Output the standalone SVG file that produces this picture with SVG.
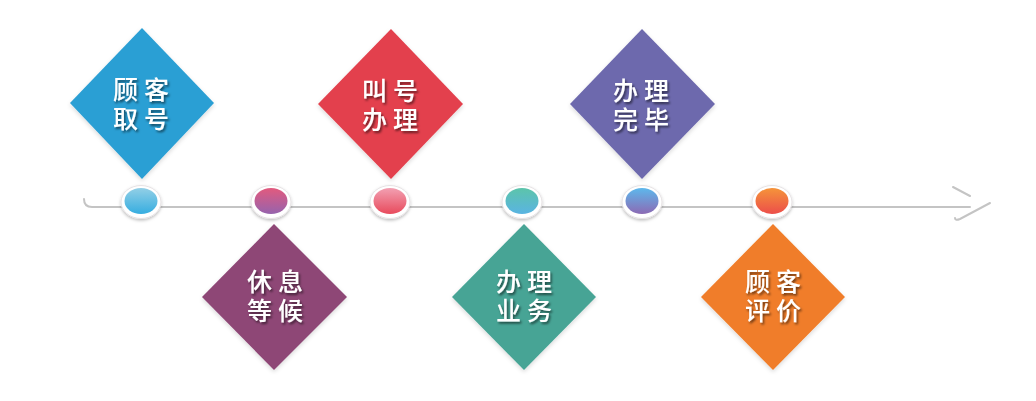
<svg xmlns="http://www.w3.org/2000/svg" width="1036" height="401" viewBox="0 0 1036 401">
<defs>
<style>
.lbl{font-family:"Liberation Sans","Noto Sans CJK SC",sans-serif;font-size:25px;font-weight:500;fill:#ffffff;text-anchor:middle;letter-spacing:6px;filter:url(#ts);}
.ring{fill:#ffffff;stroke:#e6e2e4;stroke-width:1;filter:url(#cs);}
.axis{fill:none;stroke:#c4c4c4;stroke-width:2;stroke-linecap:round;}
</style>
<filter id="ts" x="-20%" y="-30%" width="140%" height="160%">
<feDropShadow dx="1.5" dy="2" stdDeviation="1" flood-color="#000000" flood-opacity="0.55"/>
</filter>
<filter id="ds" x="-10%" y="-10%" width="120%" height="125%">
<feDropShadow dx="0" dy="2" stdDeviation="2" flood-color="#000000" flood-opacity="0.15"/>
</filter>
<filter id="cs" x="-30%" y="-30%" width="160%" height="170%">
<feDropShadow dx="0" dy="1.5" stdDeviation="1.5" flood-color="#000000" flood-opacity="0.25"/>
</filter>
<linearGradient id="g1" x1="0" y1="0" x2="0" y2="1"><stop offset="0" stop-color="#92cfe6"/><stop offset="1" stop-color="#36ade0"/></linearGradient>
<linearGradient id="g2" x1="0" y1="0" x2="0" y2="1"><stop offset="0" stop-color="#e25a7e"/><stop offset="1" stop-color="#9663ad"/></linearGradient>
<linearGradient id="g3" x1="0" y1="0" x2="0" y2="1"><stop offset="0" stop-color="#f2a0b2"/><stop offset="1" stop-color="#e84a5c"/></linearGradient>
<linearGradient id="g4" x1="0" y1="0" x2="0" y2="1"><stop offset="0" stop-color="#5cc4aa"/><stop offset="1" stop-color="#5ab4e2"/></linearGradient>
<linearGradient id="g5" x1="0" y1="0" x2="0" y2="1"><stop offset="0" stop-color="#5db8ec"/><stop offset="1" stop-color="#8c6ab4"/></linearGradient>
<linearGradient id="g6" x1="0" y1="0" x2="0" y2="1"><stop offset="0" stop-color="#f5943a"/><stop offset="1" stop-color="#ec4e4a"/></linearGradient>
</defs>
<rect width="1036" height="401" fill="#ffffff"/>

<g id="connectors">
<path class="axis" d="M84,199 Q84,207 92,207 L970,207"/>
<path class="axis" d="M953,187 L970,196"/>
<path class="axis" d="M990,203 L960,219 Q955,221 955,218"/>
</g>

<g id="dot1"><ellipse class="ring" cx="141" cy="202" rx="20" ry="16.5"/><ellipse cx="141" cy="201" rx="16.5" ry="13" fill="url(#g1)"/></g>
<g id="dot2"><ellipse class="ring" cx="271" cy="202" rx="20" ry="16.5"/><ellipse cx="271" cy="201" rx="16.5" ry="13" fill="url(#g2)"/></g>
<g id="dot3"><ellipse class="ring" cx="390" cy="202" rx="20" ry="16.5"/><ellipse cx="390" cy="201" rx="16.5" ry="13" fill="url(#g3)"/></g>
<g id="dot4"><ellipse class="ring" cx="522" cy="202" rx="20" ry="16.5"/><ellipse cx="522" cy="201" rx="16.5" ry="13" fill="url(#g4)"/></g>
<g id="dot5"><ellipse class="ring" cx="642" cy="202" rx="20" ry="16.5"/><ellipse cx="642" cy="201" rx="16.5" ry="13" fill="url(#g5)"/></g>
<g id="dot6"><ellipse class="ring" cx="772" cy="202" rx="20" ry="16.5"/><ellipse cx="772" cy="201" rx="16.5" ry="13" fill="url(#g6)"/></g>

<g id="step1">
<polygon points="142,28 214,103 142,179 70,103" fill="#2b9fd4" filter="url(#ds)"/>
<text class="lbl" x="144" y="99">顾客</text>
<text class="lbl" x="144" y="127.5">取号</text>
</g>
<g id="step2">
<polygon points="274,224 347,297 274,370 202,297" fill="#8e4676" filter="url(#ds)"/>
<text class="lbl" x="278" y="291">休息</text>
<text class="lbl" x="278" y="319.5">等候</text>
</g>
<g id="step3">
<polygon points="391,29 463,104 391,179 318,104" fill="#e3404d" filter="url(#ds)"/>
<text class="lbl" x="393" y="100">叫号</text>
<text class="lbl" x="393" y="128.5">办理</text>
</g>
<g id="step4">
<polygon points="524,224 596,297 524,370 452,297" fill="#47a495" filter="url(#ds)"/>
<text class="lbl" x="527" y="291">办理</text>
<text class="lbl" x="527" y="319.5">业务</text>
</g>
<g id="step5">
<polygon points="642,29 715,104 642,179 570,104" fill="#6d69ad" filter="url(#ds)"/>
<text class="lbl" x="644" y="100">办理</text>
<text class="lbl" x="644" y="128.5">完毕</text>
</g>
<g id="step6">
<polygon points="773,224 845,297 773,370 701,297" fill="#f07d29" filter="url(#ds)"/>
<text class="lbl" x="776" y="291">顾客</text>
<text class="lbl" x="776" y="319.5">评价</text>
</g>
</svg>
